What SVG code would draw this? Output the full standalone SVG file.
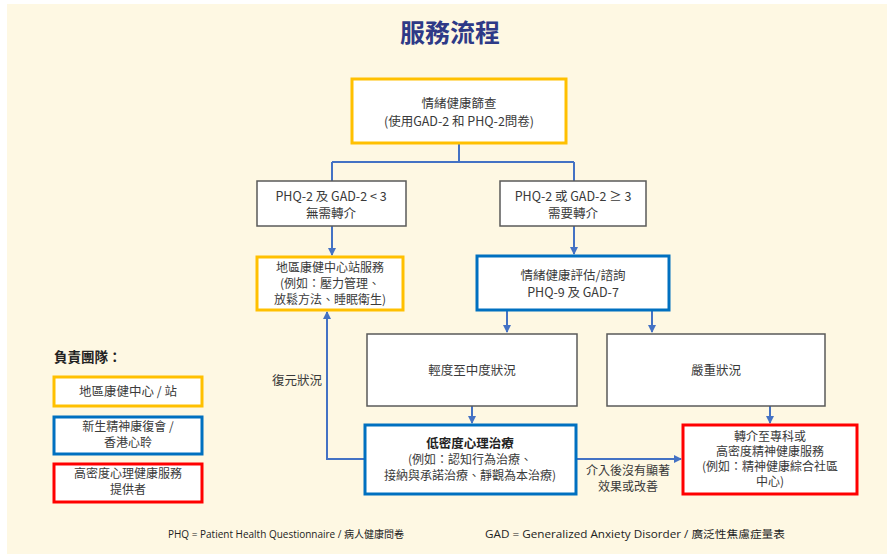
<svg xmlns="http://www.w3.org/2000/svg" width="887" height="554" viewBox="0 0 887 554">
<defs>
<marker id="ah" markerWidth="8" markerHeight="8" refX="7" refY="4" orient="auto" markerUnits="userSpaceOnUse">
<path d="M0,0 L8,4 L0,8 Z" fill="#4472c4"/>
</marker>
<style>
text{font-family:"Noto Sans CJK TC","Noto Sans",sans-serif;font-size:12.5px;fill:#3a3a3a;text-anchor:middle}
.s{font-size:12px}
.box{fill:#fff}
.y{stroke:#ffc000;stroke-width:3}
.b{stroke:#0070c0;stroke-width:3}
.r{stroke:#ff0000;stroke-width:3}
.g{stroke:#5a5a5a;stroke-width:1.5}
.c{fill:none;stroke:#4472c4;stroke-width:2}
.ft{font-family:"Open Sans","Noto Sans CJK TC",sans-serif;font-size:10.5px;text-anchor:start;fill:#222}
</style>
</defs>
<rect x="0" y="0" width="887" height="554" fill="#ffffff"/>
<rect x="7" y="4" width="880" height="550" fill="#fef8e3"/>
<text x="450" y="42" style="font-size:25px;font-weight:bold;fill:#2e3a87">服務流程</text>

<g id="connectors">
<path class="c" d="M459,143 V162 M332,162 H574 M332,162 V181 M574,162 V181"/>
<path class="c" d="M332,226 V255" marker-end="url(#ah)"/>
<path class="c" d="M574,226 V254" marker-end="url(#ah)"/>
<path class="c" d="M507,310 V332" marker-end="url(#ah)"/>
<path class="c" d="M652,310 V332" marker-end="url(#ah)"/>
<path class="c" d="M472,406 V423" marker-end="url(#ah)"/>
<path class="c" d="M770,406 V423" marker-end="url(#ah)"/>
<path class="c" d="M576,459 H681" marker-end="url(#ah)"/>
<path class="c" d="M365,459 H327 V312" marker-end="url(#ah)"/>
<text class="s" x="628" y="475">介入後沒有顯著</text>
<text class="s" x="628" y="491">效果或改善</text>
<text x="297" y="385">復元狀況</text>
</g>

<g id="n-screen">
<rect class="box y" x="352" y="79" width="214" height="64"/>
<text x="459" y="108">情緒健康篩查</text>
<text x="459" y="126">(使用GAD-2 和 PHQ-2問卷)</text>
</g>
<g id="n-low">
<rect class="box g" x="257" y="181" width="149" height="45"/>
<text x="331" y="201">PHQ-2 及 GAD-2 &lt; 3</text>
<text x="331" y="218">無需轉介</text>
</g>
<g id="n-high">
<rect class="box g" x="500" y="181" width="146" height="45"/>
<text x="573" y="201">PHQ-2 或 GAD-2 ≥ 3</text>
<text x="573" y="218">需要轉介</text>
</g>
<g id="n-dhc">
<rect class="box y" x="257" y="257" width="146" height="53"/>
<text class="s" x="330" y="272">地區康健中心站服務</text>
<text class="s" x="330" y="288">(例如：壓力管理、</text>
<text class="s" x="330" y="304">放鬆方法、睡眠衛生)</text>
</g>
<g id="n-assess">
<rect class="box b" x="477" y="256" width="192" height="54"/>
<text x="573" y="280">情緒健康評估/諮詢</text>
<text x="573" y="297">PHQ-9 及 GAD-7</text>
</g>
<g id="n-mild">
<rect class="box g" x="367" y="334" width="210" height="72"/>
<text x="472" y="375">輕度至中度狀況</text>
</g>
<g id="n-severe">
<rect class="box g" x="607" y="334" width="218" height="72"/>
<text x="716" y="375">嚴重狀況</text>
</g>
<g id="n-lowint">
<rect class="box b" x="365" y="425" width="211" height="69"/>
<text x="470" y="448" style="font-weight:bold;fill:#222">低密度心理治療</text>
<text class="s" x="470" y="464">(例如：認知行為治療、</text>
<text class="s" x="470" y="480">接納與承諾治療、靜觀為本治療)</text>
</g>
<g id="n-refer">
<rect class="box r" x="683" y="425" width="174" height="69"/>
<text class="s" x="770" y="441">轉介至專科或</text>
<text class="s" x="770" y="456">高密度精神健康服務</text>
<text class="s" x="770" y="471">(例如：精神健康綜合社區</text>
<text class="s" x="770" y="486">中心)</text>
</g>

<g id="legend">
<text x="54" y="362" style="text-anchor:start;font-weight:bold;font-size:13.5px;fill:#222">負責團隊：</text>
<rect class="box y" x="54" y="377" width="148" height="29"/>
<text x="128" y="396">地區康健中心 / 站</text>
<rect class="box b" x="54" y="417" width="148" height="37"/>
<text class="s" x="128" y="431">新生精神康復會 /</text>
<text class="s" x="128" y="447">香港心聆</text>
<rect class="box r" x="54" y="464" width="148" height="38"/>
<text class="s" x="128" y="478">高密度心理健康服務</text>
<text class="s" x="128" y="494">提供者</text>
</g>

<text class="ft" x="168" y="538" textLength="236" lengthAdjust="spacingAndGlyphs">PHQ = Patient Health Questionnaire / 病人健康問卷</text>
<text class="ft" x="485" y="538" textLength="300" lengthAdjust="spacingAndGlyphs">GAD = Generalized Anxiety Disorder / 廣泛性焦慮症量表</text>
</svg>
